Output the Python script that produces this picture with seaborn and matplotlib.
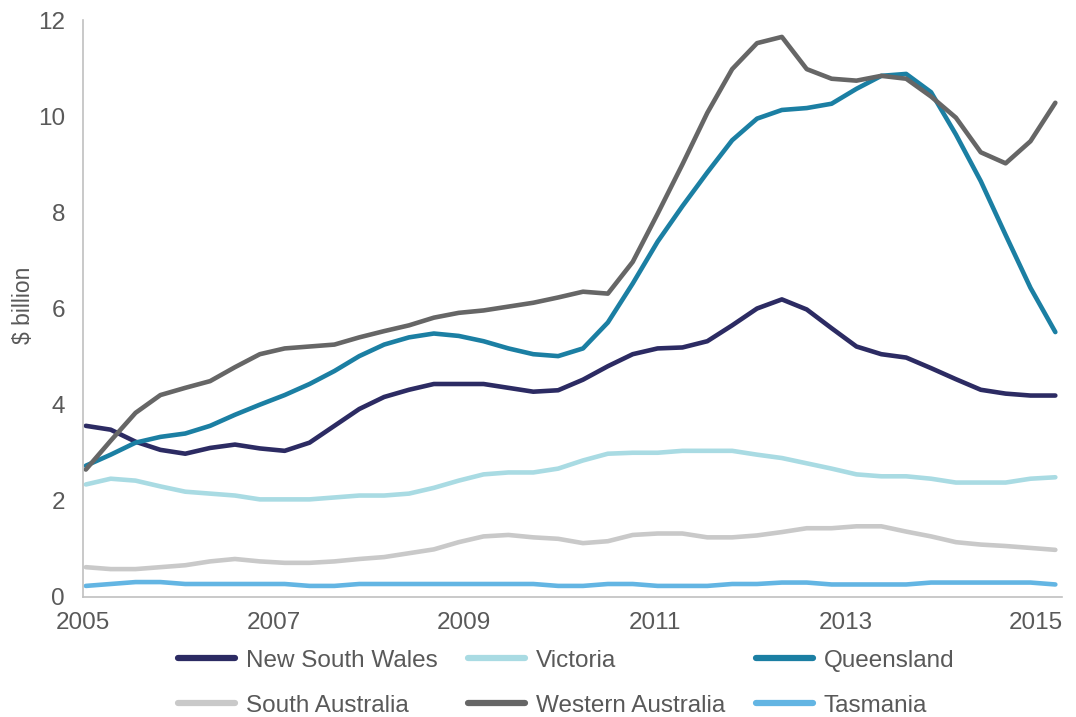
import numpy as np
import pandas as pd
import matplotlib
matplotlib.use("Agg")
import matplotlib.pyplot as plt
import seaborn as sns
from matplotlib.lines import Line2D

# ---- data ----
quarters = np.linspace(2005.03, 2015.2, 40)

nsw = [3.56, 3.48, 3.23, 3.06, 2.98, 3.10, 3.17, 3.09, 3.04, 3.21, 3.56, 3.91, 4.16, 4.31, 4.43, 4.43, 4.43, 4.35, 4.27, 4.30,
       4.52, 4.80, 5.05, 5.17, 5.19, 5.32, 5.65, 6.00, 6.19, 5.98, 5.59, 5.21, 5.05, 4.98, 4.76, 4.53, 4.31, 4.23, 4.19, 4.19]
vic = [2.34, 2.46, 2.42, 2.30, 2.19, 2.15, 2.11, 2.03, 2.03, 2.03, 2.07, 2.11, 2.11, 2.15, 2.27, 2.42, 2.55, 2.59, 2.59, 2.67,
       2.84, 2.98, 3.00, 3.00, 3.04, 3.04, 3.04, 2.96, 2.89, 2.78, 2.67, 2.55, 2.51, 2.51, 2.46, 2.38, 2.38, 2.38, 2.46, 2.49]
qld = [2.73, 2.96, 3.21, 3.33, 3.40, 3.56, 3.79, 4.00, 4.20, 4.43, 4.70, 5.01, 5.25, 5.40, 5.48, 5.43, 5.32, 5.17, 5.05, 5.01,
       5.17, 5.71, 6.52, 7.39, 8.13, 8.83, 9.50, 9.95, 10.13, 10.17, 10.26, 10.57, 10.84, 10.88, 10.50, 9.62, 8.65, 7.53, 6.43, 5.51]
sa = [0.62, 0.58, 0.58, 0.62, 0.66, 0.74, 0.79, 0.74, 0.71, 0.71, 0.74, 0.79, 0.83, 0.91, 0.99, 1.14, 1.26, 1.29, 1.24, 1.21,
      1.12, 1.16, 1.29, 1.32, 1.32, 1.24, 1.24, 1.28, 1.35, 1.43, 1.43, 1.47, 1.47, 1.36, 1.26, 1.14, 1.09, 1.06, 1.02, 0.98]
wa = [2.65, 3.25, 3.83, 4.20, 4.35, 4.49, 4.78, 5.05, 5.17, 5.21, 5.25, 5.40, 5.53, 5.65, 5.81, 5.91, 5.96, 6.04, 6.12, 6.23,
      6.35, 6.31, 6.97, 7.97, 9.00, 10.07, 10.98, 11.52, 11.65, 10.98, 10.78, 10.74, 10.84, 10.78, 10.41, 9.97, 9.25, 9.02, 9.48, 10.28]
tas = [0.23, 0.27, 0.31, 0.31, 0.27, 0.27, 0.27, 0.27, 0.27, 0.23, 0.23, 0.27, 0.27, 0.27, 0.27, 0.27, 0.27, 0.27, 0.27, 0.23,
       0.23, 0.27, 0.27, 0.23, 0.23, 0.23, 0.27, 0.27, 0.30, 0.30, 0.26, 0.26, 0.26, 0.26, 0.30, 0.30, 0.30, 0.30, 0.30, 0.26]

states = ["New South Wales", "Victoria", "Queensland", "South Australia", "Western Australia", "Tasmania"]
series = [nsw, vic, qld, sa, wa, tas]
colors = ["#2c2b63", "#a9dbe3", "#1b7fa3", "#c9c9c9", "#666666", "#63b5e3"]

x_ticks = [2005, 2007, 2009, 2011, 2013, 2015]
y_ticks = [0, 2, 4, 6, 8, 10, 12]

df = pd.concat([pd.DataFrame({"date": quarters, "value": v, "state": s})
                for s, v in zip(states, series)], ignore_index=True)

# ---- style ----
sns.set_theme(style="white")
plt.rcParams["font.family"] = ["Liberation Sans", "DejaVu Sans"]
text_col = "#595959"
axis_col = "#c0c0c0"

fig = plt.figure(figsize=(10.76, 7.17), dpi=100)
ax = fig.add_axes([0.0771, 0.1674, 0.9099, 0.8046])

sns.lineplot(data=df, x="date", y="value", hue="state", hue_order=states,
             palette=dict(zip(states, colors)), linewidth=3.3, ax=ax,
             legend=False, estimator=None, sort=False)
for ln in ax.get_lines():
    ln.set_solid_joinstyle("round")
    ln.set_solid_capstyle("round")

ax.set_xlim(2005, 2015.27)
ax.set_ylim(0, 12)
ax.set_xticks(x_ticks)
ax.set_xticklabels([str(t) for t in x_ticks])
ax.set_yticks(y_ticks)
ax.set_yticklabels([str(t) for t in y_ticks])
ax.set_xlabel("")
ax.set_ylabel("$ billion", fontsize=16.5, color=text_col)
ax.yaxis.set_label_coords(-0.049, 0.505)

for side in ["top", "right"]:
    ax.spines[side].set_visible(False)
for side in ["left", "bottom"]:
    ax.spines[side].set_color(axis_col)
    ax.spines[side].set_linewidth(1.2)

ax.tick_params(axis="both", which="major", direction="out", length=5,
               width=1.0, color=axis_col, labelsize=17.5, labelcolor=text_col)
ax.tick_params(axis="y", pad=8)
ax.tick_params(axis="x", pad=6)
ax.grid(False)

# legend filled row by row: reorder for matplotlib's column-major fill
order = [0, 3, 1, 4, 2, 5]
handles = [Line2D([0], [0], color=colors[i], lw=4.5, solid_capstyle="round") for i in order]
labels = [states[i] for i in order]
fig.legend(handles, labels, loc="center", bbox_to_anchor=(0.526, 0.047), ncol=3,
           frameon=False, fontsize=17.5, labelcolor=text_col, handlelength=2.35,
           handletextpad=0.45, columnspacing=1.25, labelspacing=0.95)

fig.savefig("out.png", dpi=100)
